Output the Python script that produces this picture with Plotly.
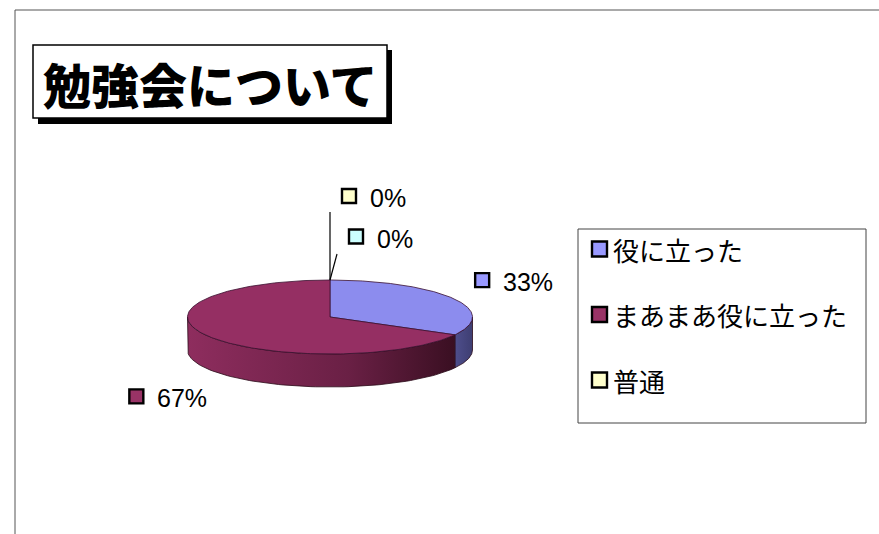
import numpy as np
import plotly.graph_objects as go

# ---- data ----
categories = ["役に立った", "まあまあ役に立った", "普通", "役に立たなかった"]
values = [33, 67, 0, 0]
label_texts = ["33%", "67%", "0%", "0%"]
in_legend = [True, True, True, False]
title_text = "勉強会について"

# ---- styles ----
top_colors = ["#8C8CEE", "#952F63", "#FFFFCC", "#CCFFFF"]
legend_colors = ["#9999FF", "#993366", "#FFFFCC", "#CCFFFF"]
side_colors = [
    [[0, "#4E4E8C"], [1, "#3E3E72"]],
    [[0, "#8E2D5E"], [0.6, "#6A2045"], [1, "#3A0F22"]],
    [[0, "#CCCC99"], [1, "#AAAA77"]],
    [[0, "#99CCCC"], [1, "#77AAAA"]],
]
W, H = 879, 534
cx, cy, rx, ry, depth = 330, 317, 142.5, 37, 33
# label marker offsets relative to slice anchor (pixels)
label_off = [(29.5, -18), (-71, 60.5), (19, -84), (26, -43.5)]
leader = [False, False, True, True]
leader_end = [None, None, (0, -68), (7, -26)]
legend_x, legend_y0, legend_dy = 599.5, 249, 65.5

fig = go.Figure()

def pt(theta, dy=0.0):
    return cx + rx * np.sin(theta), cy - ry * np.cos(theta) + dy

total = float(sum(values))
starts = np.cumsum([0] + values[:-1]) / total * 2 * np.pi
ends = np.cumsum(values) / total * 2 * np.pi

# sides (front half only: pi/2 .. 3pi/2)
for i in range(len(values)):
    a0 = max(starts[i], np.pi / 2)
    a1 = min(ends[i], 3 * np.pi / 2)
    if a1 <= a0:
        continue
    t = np.linspace(a0, a1, 80)
    xs, ys = pt(t)
    xb, yb = pt(t[::-1], depth)
    X = np.concatenate([xs, xb, xs[:1]])
    Y = np.concatenate([ys, yb, ys[:1]])
    fig.add_trace(go.Scatter(
        x=X, y=Y, mode="lines", fill="toself",
        fillgradient=dict(type="horizontal", colorscale=side_colors[i]),
        line=dict(color="#2A0A18", width=0.8),
        hoverinfo="skip", showlegend=False))

# top faces
for i in range(len(values)):
    if values[i] <= 0:
        continue
    t = np.linspace(starts[i], ends[i], 200)
    xs, ys = pt(t)
    X = np.concatenate([[cx], xs, [cx]])
    Y = np.concatenate([[cy], ys, [cy]])
    fig.add_trace(go.Scatter(
        x=X, y=Y, mode="lines", fill="toself", fillcolor=top_colors[i],
        line=dict(color="#3A1030", width=0.8),
        hoverinfo="skip", showlegend=False, name=categories[i]))

# data labels
for i in range(len(values)):
    mid = (starts[i] + ends[i]) / 2
    if values[i] == 0:
        mid = ends[i]
    ax_, ay_ = pt(mid)
    if leader[i]:
        ex, ey = leader_end[i]
        fig.add_trace(go.Scatter(x=[ax_, ax_ + ex], y=[ay_, ay_ + ey], mode="lines",
                                 line=dict(color="black", width=1.2),
                                 hoverinfo="skip", showlegend=False))
    mx, my = ax_ + label_off[i][0], ay_ + label_off[i][1]
    fig.add_trace(go.Scatter(x=[mx], y=[my], mode="markers",
                             marker=dict(symbol="square", size=14, color=legend_colors[i],
                                         line=dict(color="black", width=2.4)),
                             hoverinfo="skip", showlegend=False))
    fig.add_annotation(x=mx + 19, y=my + 2, text=label_texts[i], showarrow=False,
                       xanchor="left", yanchor="middle",
                       font=dict(family="Liberation Sans, Arial", size=25, color="black"))

# legend (drawn manually inside a framed box)
k = 0
for i in range(len(values)):
    if not in_legend[i]:
        continue
    ly = legend_y0 + k * legend_dy
    fig.add_trace(go.Scatter(x=[legend_x], y=[ly], mode="markers", name=categories[i],
                             marker=dict(symbol="square", size=15, color=legend_colors[i],
                                         line=dict(color="black", width=2.4)),
                             hoverinfo="skip", showlegend=False))
    fig.add_annotation(x=legend_x + 11, y=ly, text=categories[i], showarrow=False,
                       xanchor="left", yanchor="middle",
                       font=dict(family="Noto Sans CJK JP", size=26, color="black"))
    k += 1

shapes = [
    # slide frame
    dict(type="rect", xref="x", yref="y", x0=15, y0=10, x1=W + 10, y1=H + 10,
         line=dict(color="#555555", width=1)),
    # title shadow & box
    dict(type="rect", xref="x", yref="y", x0=38, y0=50, x1=392, y1=124,
         fillcolor="black", line=dict(width=0)),
    dict(type="rect", xref="x", yref="y", x0=33, y0=45, x1=387, y1=118,
         fillcolor="white", line=dict(color="black", width=1.5)),
    # legend box
    dict(type="rect", xref="x", yref="y", x0=578, y0=229, x1=866, y1=423,
         fillcolor="rgba(0,0,0,0)", line=dict(color="#444444", width=1)),
]

fig.add_annotation(x=210, y=83, text=title_text, showarrow=False,
                   xanchor="center", yanchor="middle",
                   font=dict(family="Noto Sans CJK JP", size=48, color="black", weight=900))

fig.update_layout(
    width=W, height=H, margin=dict(l=0, r=0, t=0, b=0),
    paper_bgcolor="white", plot_bgcolor="white",
    xaxis=dict(range=[0, W], visible=False, fixedrange=True),
    yaxis=dict(range=[H, 0], visible=False, fixedrange=True),
    shapes=shapes,
    showlegend=False,
)

fig.write_html("out.html", config={"displayModeBar": False},
               post_script="document.body.style.margin='0';")
